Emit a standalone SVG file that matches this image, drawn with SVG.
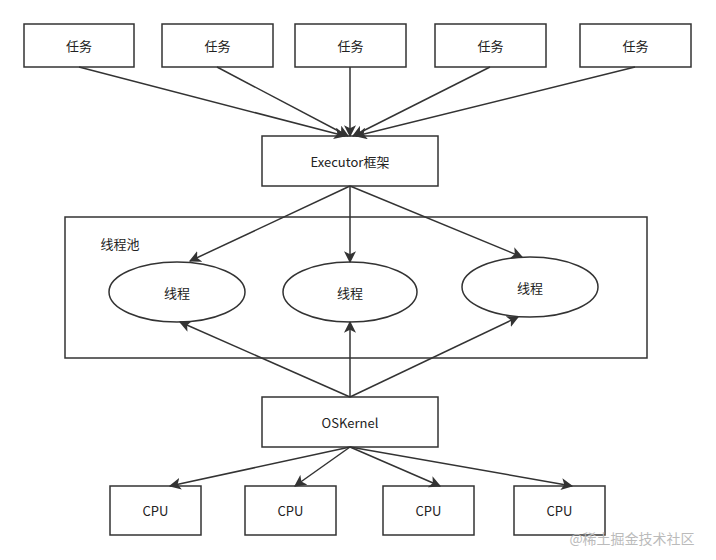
<svg xmlns="http://www.w3.org/2000/svg" width="716" height="560" viewBox="0 0 716 560">
<defs>
<marker id="a" viewBox="0 0 10 10" refX="9" refY="5" markerWidth="8" markerHeight="8" orient="auto"><path d="M0,0 L10,5 L0,10 L2.5,5 z" fill="#333"/></marker>
<style>
rect,ellipse{fill:#fff;stroke:#333;stroke-width:1.5}
text{font-family:"Noto Sans CJK SC","Liberation Sans",sans-serif;font-size:13px;fill:#222;text-anchor:middle;dominant-baseline:central}
#c line{stroke:#333;stroke-width:1.5;marker-end:url(#a)}
</style>
</defs>
<rect x="0" y="0" width="716" height="560" style="fill:#fff;stroke:none"/>
<g id="pool"><rect x="65" y="217" width="582" height="141"/><text x="120" y="243">线程池</text></g>
<g id="t1"><rect x="24" y="24" width="110" height="43"/><text x="79" y="45.5">任务</text></g>
<g id="t2"><rect x="162" y="24" width="111" height="43"/><text x="217.5" y="45.5">任务</text></g>
<g id="t3"><rect x="295" y="24" width="111" height="43"/><text x="350.5" y="45.5">任务</text></g>
<g id="t4"><rect x="435" y="24" width="111" height="43"/><text x="490.5" y="45.5">任务</text></g>
<g id="t5"><rect x="580" y="24" width="111" height="43"/><text x="635.5" y="45.5">任务</text></g>
<g id="exec"><rect x="262" y="136" width="176" height="50"/><text x="350" y="161">Executor框架</text></g>
<g id="th1"><ellipse cx="177" cy="292" rx="68" ry="30"/><text x="177" y="292">线程</text></g>
<g id="th2"><ellipse cx="350" cy="292" rx="67" ry="30"/><text x="350" y="292">线程</text></g>
<g id="th3"><ellipse cx="530" cy="287" rx="68" ry="30"/><text x="530" y="287">线程</text></g>
<g id="os"><rect x="262" y="397" width="176" height="50"/><text x="350" y="422">OSKernel</text></g>
<g id="cpu1"><rect x="110" y="486" width="91" height="49"/><text x="155.5" y="510.5">CPU</text></g>
<g id="cpu2"><rect x="245" y="486" width="91" height="49"/><text x="290.5" y="510.5">CPU</text></g>
<g id="cpu3"><rect x="383" y="486" width="91" height="49"/><text x="428.5" y="510.5">CPU</text></g>
<g id="cpu4"><rect x="514" y="486" width="91" height="49"/><text x="559.5" y="510.5">CPU</text></g>
<g id="c">
<line x1="79" y1="67" x2="345" y2="136"/>
<line x1="217" y1="67" x2="348" y2="136"/>
<line x1="350" y1="67" x2="350" y2="136"/>
<line x1="490" y1="67" x2="353" y2="136"/>
<line x1="635" y1="67" x2="356" y2="136"/>
<line x1="350" y1="186" x2="190" y2="261"/>
<line x1="350" y1="186" x2="350" y2="262"/>
<line x1="350" y1="186" x2="522" y2="257"/>
<line x1="350" y1="397" x2="180" y2="322"/>
<line x1="350" y1="397" x2="350" y2="322"/>
<line x1="350" y1="397" x2="518" y2="317"/>
<line x1="350" y1="447" x2="170" y2="486"/>
<line x1="350" y1="447" x2="295" y2="486"/>
<line x1="350" y1="447" x2="440" y2="486"/>
<line x1="350" y1="447" x2="572" y2="486"/>
</g>
<text x="632" y="538" style="font-size:14px;fill:#bbb">@稀土掘金技术社区</text>
</svg>
